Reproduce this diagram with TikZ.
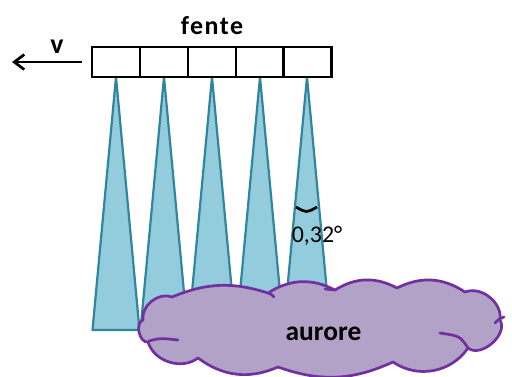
\documentclass[tikz,border=0pt]{standalone}
\usepackage{fontspec}
\setmainfont{Carlito}
\usetikzlibrary{arrows.meta}
\definecolor{beamfill}{HTML}{93CDDD}
\definecolor{beamline}{HTML}{31859C}
\definecolor{aurorefill}{HTML}{B3A2C7}
\definecolor{auroreline}{HTML}{7030A0}
\begin{document}
\begin{tikzpicture}[x=1bp,y=-1bp,
  beam/.style={fill=beamfill, draw=beamline, line width=2.2bp, line join=round},
  cell/.style={draw=black, line width=2.7bp, minimum width=48bp, minimum height=30bp,
               inner sep=0pt, outer sep=0pt},
  cloudbody/.style={fill=aurorefill, draw=auroreline, line width=2.7bp, line join=round},
  cloudline/.style={draw=auroreline, line width=2.7bp, line cap=round},
  lbl/.style={inner sep=0pt, anchor=base, text=black}]
  % canvas
  \fill[white] (0,0) rectangle (512,376);
  \useasboundingbox (0,0) rectangle (512,376);

  % beam apexes under the slit cells
  \foreach \i/\x in {1/116,2/164,3/212,4/260,5/307}{
    \coordinate (a\i) at (\x,77);
    \draw[beam] (a\i) -- ++(23.5,253) -- ++(-47,0) -- cycle;
  }

  % slit made of five cells
  \foreach \i/\x in {1/116,2/164,3/212,4/260,5/307.5}{
    \node[cell] (c\i) at (\x,62) {};
  }
  \node[lbl, font=\bfseries\fontsize{26}{30}\selectfont\addfontfeatures{LetterSpace=6}] (fente) at (212,34) {fente};

  % velocity arrow
  \coordinate (vtip) at (12,62);
  \draw[line width=2.7bp, -{Straight Barb[length=10bp,width=15bp,line width=2.7bp]}, shorten <=10bp] (c1.west) -- (vtip);
  \node[lbl, font=\bfseries\fontsize{28}{32}\selectfont] (v) at (57,53) {v};

  % aperture angle of the last beam
  \draw[line width=2.7bp] (296,207) .. controls (306.5,213) .. (317,207);
  \node[lbl, font=\fontsize{24}{28}\selectfont] (angle) at (317,242) {0,32°};

  % aurora cloud
  \draw[cloudbody] (172,297) to[bend left=20] (268,293) to[bend left=30] (335,290)
    to[bend left=30] (397,288) to[bend left=30] (465,292) to[bend left=60] (500,320)
    to[bend left=80] (468,348) to[bend left=45] (393,362) to[bend left=22] (278,367)
    to[bend left=30] (198,358) to[bend left=55] (148,342) to[bend left=85] (143,320)
    to[bend left=60] (172,297) -- cycle;
  \draw[cloudline] (149,341) .. controls (160,338) .. (178,340);
  \draw[cloudline] (440,333) .. controls (460,336) .. (468,348);
  \draw[cloudline] (495,323) .. controls (499,319) .. (504,317);
  \draw[cloudline] (268,293) .. controls (271,294) .. (274,297);
  \draw[cloudline] (335,290) .. controls (330,289) .. (325,289);
  \node[lbl, font=\bfseries\fontsize{27.5}{32}\selectfont] (aurore) at (323.5,340) {aurore};
\end{tikzpicture}
\end{document}
